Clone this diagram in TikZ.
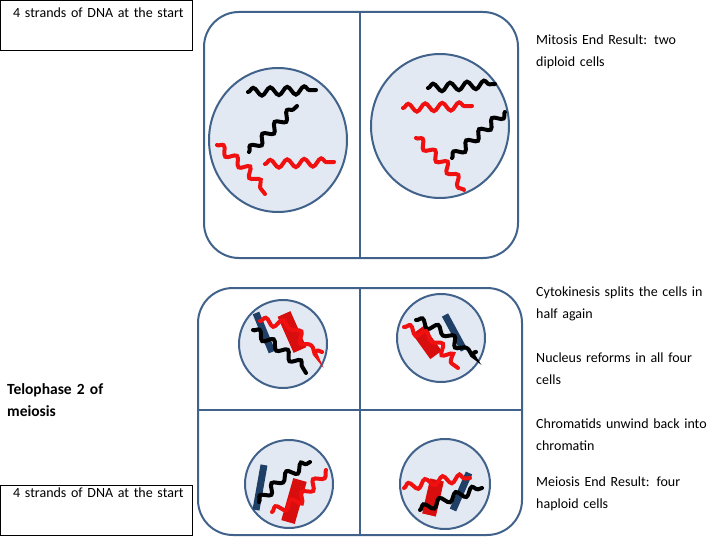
\documentclass[tikz,border=0pt]{standalone}
\usepackage{fontspec}
\setmainfont{Carlito}
\usetikzlibrary{decorations.pathmorphing}
\hyphenpenalty=10000
\definecolor{edge}{HTML}{41628A}
\definecolor{nuc}{HTML}{E3E9F3}
\definecolor{bar}{HTML}{1F3F66}
\definecolor{rd}{HTML}{F01010}
\tikzset{
 cellbox/.style={draw=edge,line width=2pt,rounded corners=35pt},
 divider/.style={draw=edge,line width=2pt},
 nucleus/.style={draw=edge,line width=2pt,fill=nuc},
 dna/.style={line width=4pt,line cap=round,decorate,decoration={snake,segment length=17pt,amplitude=4pt}},
 blk/.style={dna,draw=black},
 red/.style={dna,draw=rd},
 bluebar/.style={line width=7pt,draw=bar},
 redbar/.style={line width=14pt,draw=rd!90!black},
 lab/.style={font=\fontsize{14pt}{21.5pt}\selectfont,align=left,anchor=north west,text width=176pt,inner sep=0pt},
 box/.style={draw,thin,anchor=north west,inner sep=0pt,minimum width=192pt,minimum height=50pt}
}
\begin{document}
\begin{tikzpicture}[x=1pt,y=-1pt]
\useasboundingbox (0,0) rectangle (720,540);
% top cell
\draw[cellbox] (204,12) rectangle (518,258);
\draw[divider] (360,12) -- (360,258);
\draw[nucleus] (278,140) ellipse [x radius=69,y radius=72];
\draw[nucleus] (440,126) ellipse [x radius=69,y radius=72];
\draw[blk] (248,92) -- (316,90);
\draw[blk] (249,152) -- (297,106);
\draw[red] (217,145) -- (242,165) -- (265,194);
\draw[red] (265,164) -- (334,162);
\draw[blk] (428,88) -- (495,84);
\draw[red] (403,108) -- (472,106);
\draw[blk] (452,158) -- (505,112);
\draw[red] (416,138) -- (440,160) -- (464,190);
% bottom cell
\draw[cellbox] (198,288) rectangle (522,535);
\draw[divider] (360,288) -- (360,535);
\draw[divider] (198,410) -- (522,410);
\draw[nucleus] (283,344) circle (44);
\draw[nucleus] (441,338) circle (44);
\draw[nucleus] (289,484) circle (44);
\draw[nucleus] (445,484) circle (45);
% TL
\draw[bluebar] (256,313) -- (272,352);
\draw[redbar] (284,314) -- (300,350);
\draw[blk] (253,330) -- (275,345) -- (300,365) -- (306,373);
\draw[red] (260,321) -- (290,325) -- (304,345) -- (322,352);
% TR
\draw[bluebar] (445,315) -- (464,350);
\draw[redbar] (418,330) -- (436,355);
\draw[blk] (416,320) -- (440,330) -- (460,350) -- (476,352);
\draw[red] (404,327) -- (425,335) -- (440,355) -- (458,368);
% BL
\draw[bluebar] (264,465) -- (256,510);
\draw[redbar] (300,480) -- (288,522);
\draw[blk] (259,502) -- (280,480) -- (310,462);
\draw[red] (272,512) -- (300,500) -- (318,480) -- (326,470);
% BR
\draw[bluebar] (469,473) -- (453,510);
\draw[redbar] (437,480) -- (429,515);
\draw[red] (404,488) -- (430,482) -- (470,478);
\draw[blk] (420,510) -- (445,500) -- (482,488);
% labels
\node[box] (b1) at (0,0) {};
\node[lab] (t1) at (13,8) {4 strands of DNA at the start};
\node[box] (b2) at (0,485) {};
\node[lab] (t2) at (13,488) {4 strands of DNA at the start};
\node[lab,font=\fontsize{15.5pt}{22pt}\selectfont\bfseries,text width=130pt] (t3) at (7,383) {Telophase 2 of meiosis};
\node[lab] (m1) at (536,35) {Mitosis End Result: two diploid cells};
\node[lab] (m2) at (536,287) {Cytokinesis splits the cells in half again};
\node[lab] (m3) at (536,353) {Nucleus reforms in all four cells};
\node[lab] (m4) at (536,419) {Chromatids unwind back into chromatin};
\node[lab] (m5) at (536,477) {Meiosis End Result: four haploid cells};
\end{tikzpicture}
\end{document}
